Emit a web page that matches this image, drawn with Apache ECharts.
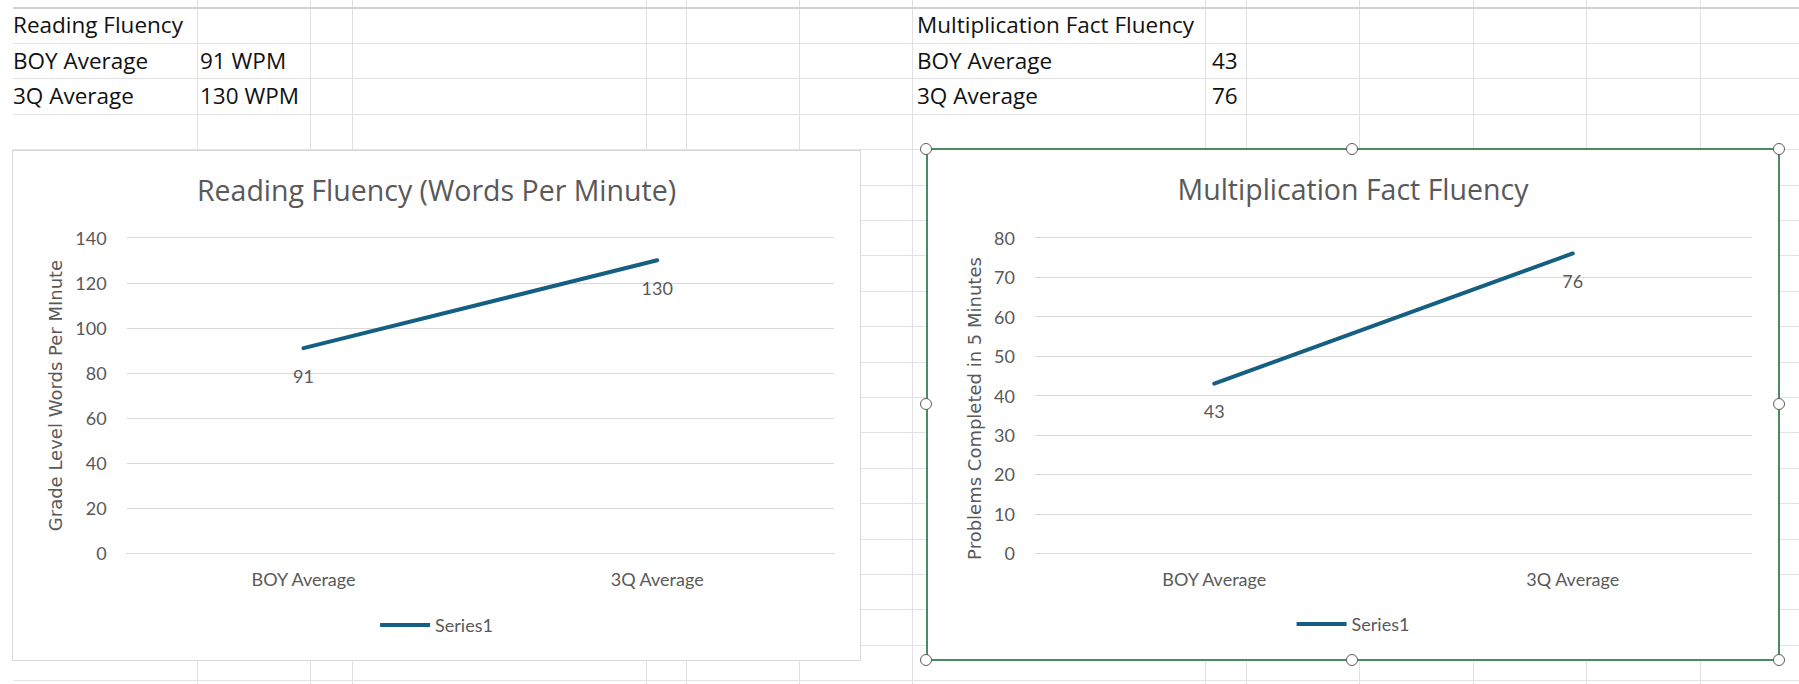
<!DOCTYPE html>
<html>
<head>
<meta charset="utf-8">
<script src="https://cdn.jsdelivr.net/npm/echarts@6/dist/echarts.min.js"></script>
<style>
html, body { margin: 0; padding: 0; background: #fff; }
body { width: 1799px; height: 684px; overflow: hidden; position: relative; }
.gl { position: absolute; background: #e2e2e2; }
.cell { position: absolute; font-family: "Open Sans", sans-serif; font-size: 22.5px; color: #111; height: 36px; line-height: 36px; white-space: nowrap; }
#reading { position: absolute; left: 12px; top: 150px; width: 849px; height: 511px; background: #fff; box-shadow: inset 0 0 0 1px #d9d9d9; }
#mult { position: absolute; left: 927px; top: 149px; width: 852px; height: 511px; background: #fff; }
#sel { position: absolute; left: 926px; top: 148px; width: 854px; height: 513px; border: 2px solid #4a8b62; box-sizing: border-box; pointer-events: none; }
.hd { position: absolute; width: 10px; height: 10px; margin: -6.5px 0 0 -6.5px; border: 1.5px solid #5c5c5c; border-radius: 50%; background: #fff; }
</style>
</head>
<body>
<div id="sheet"></div>
<div id="reading"></div>
<div id="mult"></div>
<div id="sel"></div>
<div id="handles"></div>
<script>
// data
const categories = ['BOY Average', '3Q Average']
const readingValues = [91, 130]
const multValues = [43, 76]
const readingTicks = { min: 0, max: 140, interval: 20 }
const multTicks = { min: 0, max: 80, interval: 10 }

// spreadsheet grid behind the charts
const sheet = document.getElementById('sheet')
const colX = [196.5, 310, 352, 646, 686, 799, 912, 1205, 1246, 1359, 1472.5, 1586, 1699.5]
const rowY = []
for (let i = 0; i < 20; i++) rowY.push(7.5 + i * 35.4)

colX.forEach(x => {
  const d = document.createElement('div')
  d.className = 'gl'
  d.style.cssText = `left:${x}px;top:0;width:1px;height:684px;`
  sheet.appendChild(d)
})
rowY.forEach((y, i) => {
  const d = document.createElement('div')
  d.className = 'gl'
  d.style.cssText = `left:12.5px;top:${y - (i === 0 ? 1 : 0)}px;width:1787px;height:${i === 0 ? 2 : 1}px;` + (i === 0 ? 'background:#d0d0d0;' : '')
  sheet.appendChild(d)
})

function cell(text, x, row) {
  const d = document.createElement('div')
  d.className = 'cell'
  d.textContent = text
  d.style.left = x + 'px'
  d.style.top = (rowY[row] + 17.7 - 18) + 'px'
  sheet.appendChild(d)
}
cell('Reading Fluency', 13, 0)
cell('Multiplication Fact Fluency', 917, 0)
categories.forEach((c, i) => {
  cell(c, 13, i + 1)
  cell(readingValues[i] + ' WPM', 200, i + 1)
  cell(c, 917, i + 1)
  cell(String(multValues[i]), 1212, i + 1)
})

// selection handles of the active chart
const handles = document.getElementById('handles');
[[926.7, 149], [1352.8, 149], [1779, 149], [926.7, 404.5], [1779, 404.5], [926.7, 660], [1352.8, 660], [1779, 660]].forEach(p => {
  const d = document.createElement('div')
  d.className = 'hd'
  d.style.left = p[0] + 'px'
  d.style.top = p[1] + 'px'
  handles.appendChild(d)
})

const gray = '#595959'
const lineColor = '#156082'

function makeOption(title, yName, values, ticks, grid, nameGap, namePad) {
  return {
    backgroundColor: 'transparent',
    animation: false,
    title: {
      text: title,
      left: 'center',
      top: 20,
      textStyle: { fontFamily: 'Open Sans', fontSize: 28.5, fontWeight: 'normal', color: gray },
    },
    legend: {
      bottom: 22,
      left: 'center',
      icon: 'rect',
      itemWidth: 50,
      itemHeight: 4,
      data: ['Series1'],
      textStyle: { fontFamily: 'Lato', fontSize: 18, color: gray },
    },
    grid: grid,
    xAxis: {
      type: 'category',
      data: categories,
      boundaryGap: true,
      axisLine: { show: true, lineStyle: { color: '#d9d9d9', width: 1 } },
      axisTick: { show: false },
      axisLabel: { margin: 17, fontFamily: 'Lato', fontSize: 18, color: gray },
    },
    yAxis: {
      type: 'value',
      min: ticks.min,
      max: ticks.max,
      interval: ticks.interval,
      name: yName,
      nameLocation: 'middle',
      nameGap: nameGap,
      nameTextStyle: { fontFamily: 'DejaVu Sans', fontSize: 18, color: gray, padding: [0, namePad, 0, 0] },
      axisLine: { show: false },
      axisTick: { show: false },
      axisLabel: { margin: 20, fontFamily: 'Lato', fontSize: 18, color: gray },
      splitLine: { show: true, lineStyle: { color: '#d9d9d9', width: 1 } },
    },
    series: [{
      name: 'Series1',
      type: 'line',
      data: values,
      symbol: 'circle',
      symbolSize: 1,
      color: lineColor,
      lineStyle: { width: 4, color: lineColor, cap: 'round' },
      label: {
        show: true,
        position: 'bottom',
        distance: 18,
        fontFamily: 'Lato',
        fontSize: 18,
        color: gray,
      },
    }],
  }
}

const readingChart = echarts.init(document.getElementById('reading'), null, { renderer: 'svg' })
readingChart.setOption(makeOption(
  'Reading Fluency (Words Per Minute)',
  'Grade Level Words Per MInute',
  readingValues,
  readingTicks,
  { left: 114.7, right: 27, top: 87.7, bottom: 107.7 },
  58,
  0,
))

const multChart = echarts.init(document.getElementById('mult'), null, { renderer: 'svg' })
multChart.setOption(makeOption(
  'Multiplication Fact Fluency',
  'Problems Completed in 5 Minutes',
  multValues,
  multTicks,
  { left: 108, right: 27, top: 88.7, bottom: 106.7 },
  50,
  26,
))
</script>
</body>
</html>
